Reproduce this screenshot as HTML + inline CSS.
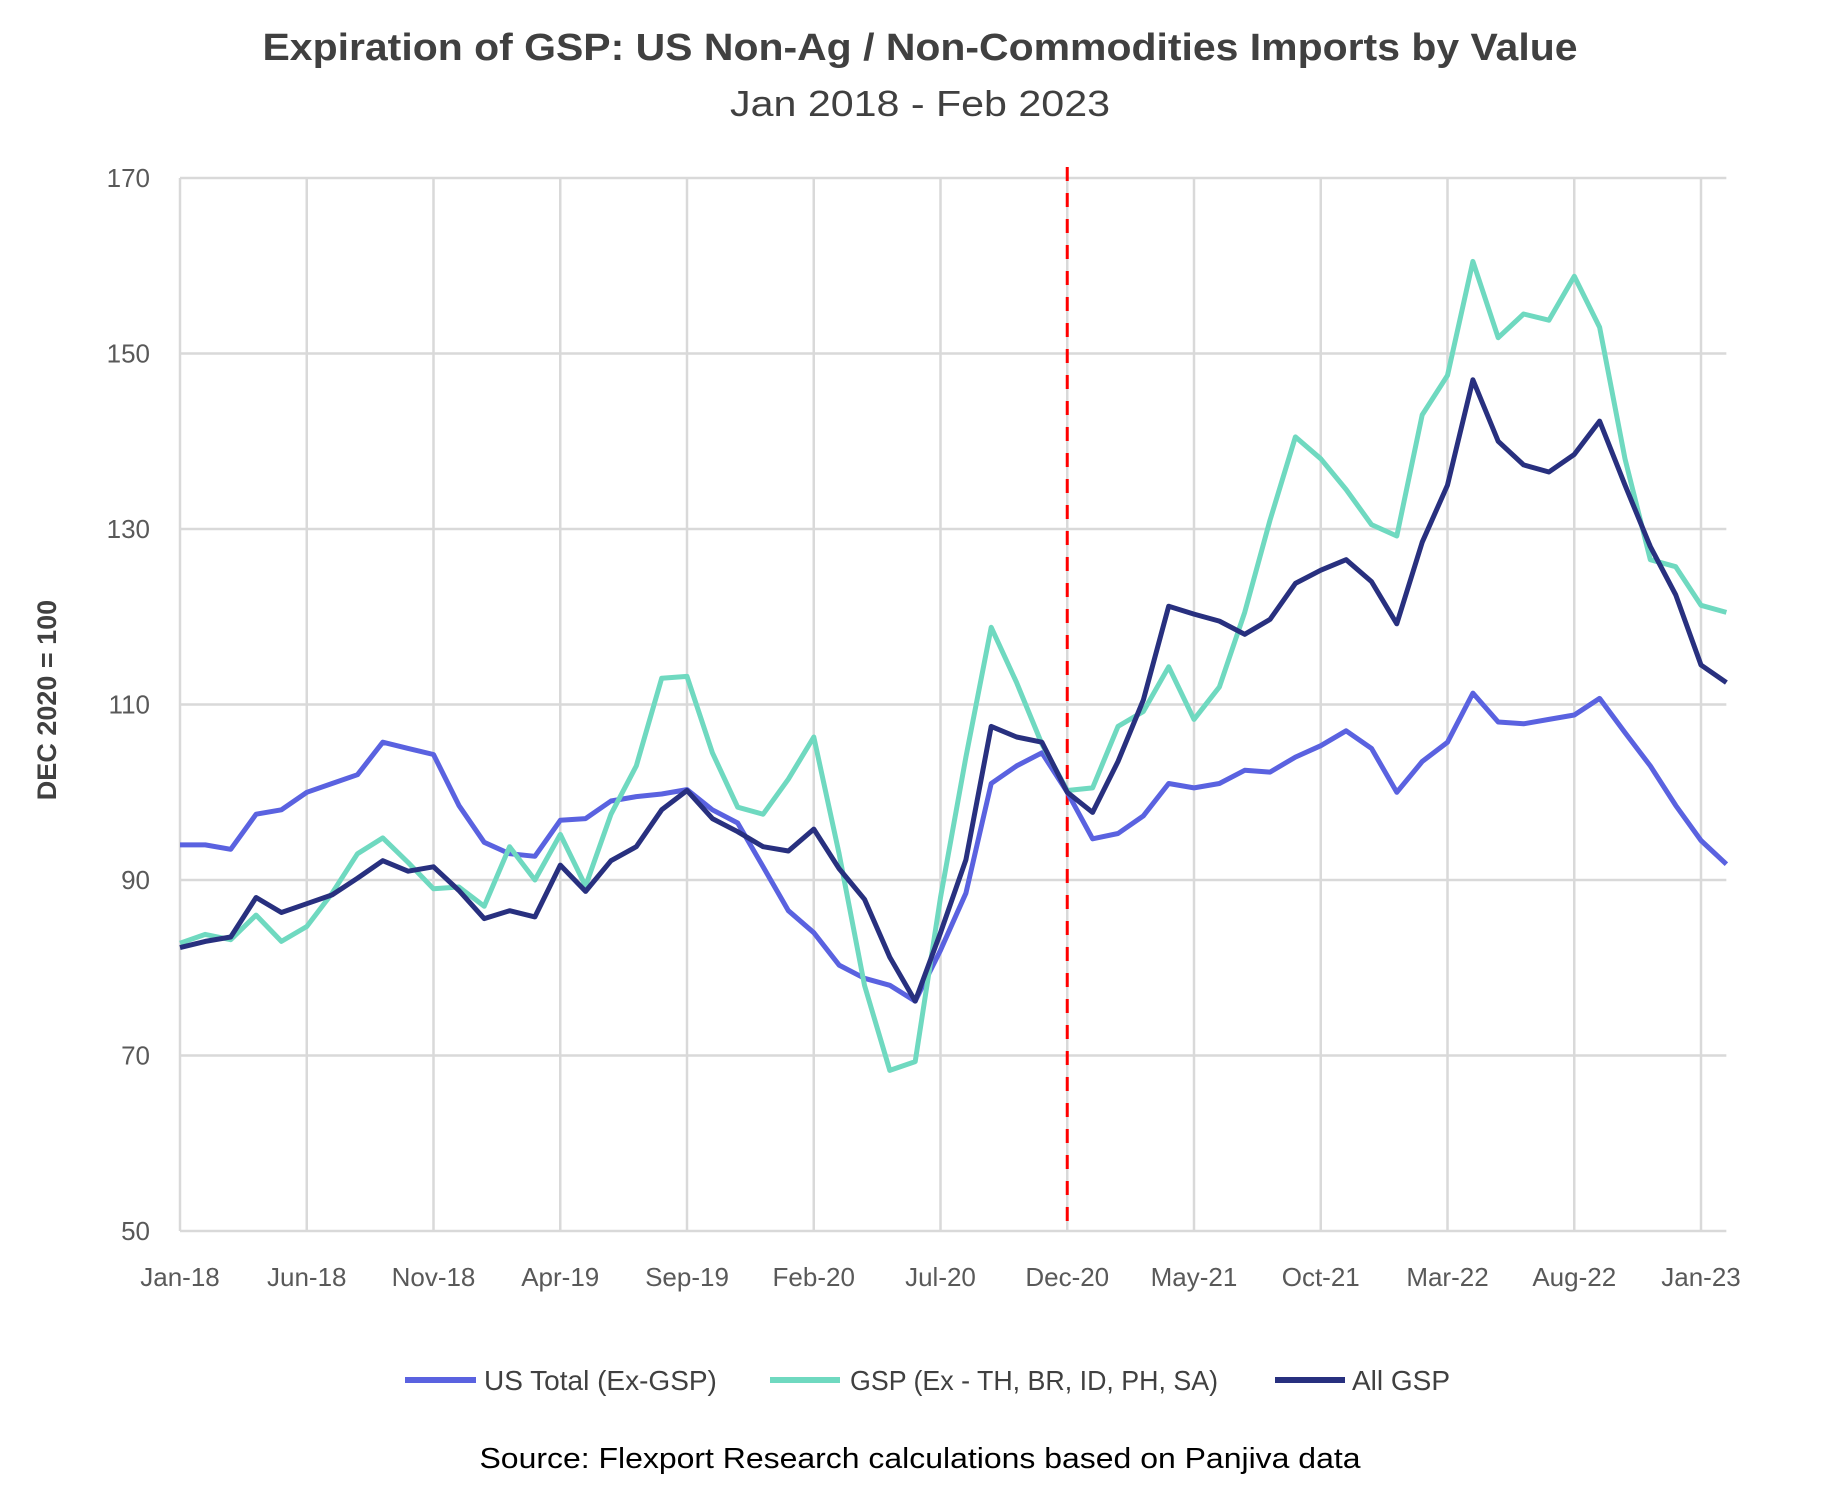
<!DOCTYPE html>
<html><head><meta charset="utf-8"><style>
html,body{margin:0;padding:0;background:#fff;}
svg{display:block;font-family:"Liberation Sans",sans-serif;}
</style></head><body>
<svg id="chart" width="1845" height="1495" viewBox="0 0 1845 1495">
<text x="920" y="60" text-anchor="middle" font-size="38" font-weight="bold" fill="#404040" textLength="1315" lengthAdjust="spacingAndGlyphs">Expiration of GSP: US Non-Ag / Non-Commodities Imports by Value</text>
<text x="920" y="116" text-anchor="middle" font-size="36" fill="#404040" textLength="380" lengthAdjust="spacingAndGlyphs">Jan 2018 - Feb 2023</text>
<g id="grid"></g>
<g id="ylabels"></g>
<g id="xlabels"></g>
<line id="dec20" stroke="#ff0000" stroke-width="3" stroke-dasharray="14,12"/>
<g id="series"></g>
<text transform="translate(56,700) rotate(-90)" text-anchor="middle" font-size="27" font-weight="bold" fill="#404040">DEC 2020 = 100</text>
<g>
<line x1="405" y1="1380" x2="476" y2="1380" stroke="#5a62e0" stroke-width="6"/>
<text x="484" y="1390" font-size="28" fill="#404040">US Total (Ex-GSP)</text>
<line x1="770" y1="1380" x2="840" y2="1380" stroke="#6fd9c0" stroke-width="6"/>
<text x="850" y="1390" font-size="28" fill="#404040" textLength="368" lengthAdjust="spacingAndGlyphs">GSP (Ex - TH, BR, ID, PH, SA)</text>
<line x1="1275" y1="1380" x2="1345" y2="1380" stroke="#28307f" stroke-width="6"/>
<text x="1352" y="1390" font-size="28" fill="#404040">All GSP</text>
</g>
<text x="920" y="1468" text-anchor="middle" font-size="29" fill="#000" textLength="881" lengthAdjust="spacingAndGlyphs">Source: Flexport Research calculations based on Panjiva data</text>
</svg>
<script>
const yTicks=[50,70,90,110,130,150,170];
const xTickLabels=["Jan-18","Jun-18","Nov-18","Apr-19","Sep-19","Feb-20","Jul-20","Dec-20","May-21","Oct-21","Mar-22","Aug-22","Jan-23"];
const usTotal=[94,94,93.5,97.5,98,100,101,102,105.7,105,104.3,98.5,94.3,93,92.7,96.8,97,99,99.5,99.8,100.3,98,96.5,91.5,86.5,84,80.3,78.8,78,76.2,82,88.5,101,103,104.5,100,94.7,95.3,97.3,101,100.5,101,102.5,102.3,104,105.3,107,105,100,103.5,105.7,111.3,108,107.8,108.3,108.8,110.7,106.8,103,98.5,94.5,91.8];
const gspEx=[82.8,83.8,83.2,86,83,84.7,88.5,93,94.8,92,89,89.2,87,93.8,90,95.2,89.3,97.5,103,113,113.2,104.5,98.3,97.5,101.5,106.3,93,78,68.3,69.3,88,104,118.8,112.5,105.5,100.2,100.5,107.5,109.2,114.3,108.3,112,120.5,131,140.5,138,134.5,130.5,129.2,143,147.5,160.5,151.8,154.5,153.8,158.8,153,138,126.5,125.7,121.3,120.5];
const allGsp=[82.3,83,83.5,88,86.3,87.3,88.3,90.2,92.2,91,91.5,88.8,85.6,86.5,85.8,91.7,88.7,92.2,93.8,98,100.2,97,95.5,93.8,93.3,95.8,91.3,87.8,81.2,76.2,84,92.3,107.5,106.3,105.7,100,97.7,103.5,110.5,121.2,120.3,119.5,118,119.7,123.8,125.3,126.5,124,119.2,128.5,135,147,140,137.3,136.5,138.5,142.3,135,128,122.5,114.5,112.5];
const markerMonth=35;

const NS="http://www.w3.org/2000/svg";
const x0=180,dx=25.35,yTop=178,yBot=1231,vMin=50,vMax=170,xEnd=x0+61*dx;
function X(i){return x0+i*dx;}
function Y(v){return yBot-(v-vMin)/(vMax-vMin)*(yBot-yTop);}
function mk(tag,attrs,parent){const e=document.createElementNS(NS,tag);for(const k in attrs)e.setAttribute(k,attrs[k]);parent.appendChild(e);return e;}
const grid=document.getElementById('grid'),yl=document.getElementById('ylabels'),xl=document.getElementById('xlabels');
for(const t of yTicks){
 const l=mk('line',{x1:x0,x2:xEnd,y1:Y(t),y2:Y(t),stroke:'#d9d9d9','stroke-width':2.5},grid);
 
 
 const tx=mk('text',{x:150,y:Y(t)+9,'text-anchor':'end','font-size':26,fill:'#595959'},yl);
 tx.textContent=t;
 
 
}
xTickLabels.forEach((lab,k)=>{
 const i=k*5;
 const l=mk('line',{x1:X(i),x2:X(i),y1:yTop,y2:yBot,stroke:'#d9d9d9','stroke-width':2.5},grid);
 
 
 const tx=mk('text',{x:X(i),y:1286,'text-anchor':'middle','font-size':26,fill:'#595959'},xl);
 tx.textContent=lab;
 
 
});
const d=document.getElementById('dec20');
d.setAttribute('x1',X(markerMonth));d.setAttribute('x2',X(markerMonth));d.setAttribute('y1',167);d.setAttribute('y2',yBot);
const sg=document.getElementById('series');
[[usTotal,'#5a62e0','line-us-total'],[gspEx,'#6fd9c0','line-gsp-ex'],[allGsp,'#28307f','line-all-gsp']].forEach(([arr,c,n])=>{
 const p=mk('polyline',{points:arr.map((v,i)=>X(i).toFixed(1)+','+Y(v).toFixed(1)).join(' '),fill:'none',stroke:c,'stroke-width':5,'stroke-linejoin':'round'},sg);
 
 
});
</script>
</body></html>
